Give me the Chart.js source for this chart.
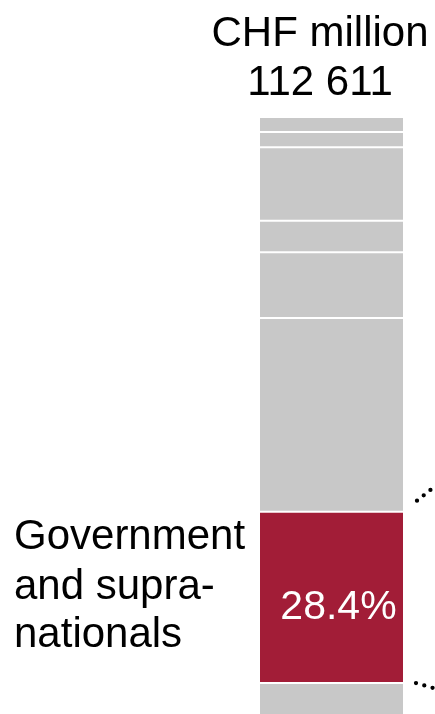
<!DOCTYPE html>
<html><head><meta charset="utf-8">
<script src="https://cdn.jsdelivr.net/npm/chart.js@4.4.1/dist/chart.umd.min.js"></script>
<style>html,body{margin:0;padding:0;background:#fff;overflow:hidden}canvas{display:block}</style>
</head><body><canvas id="c" width="435" height="714"></canvas>
<script>
// ---- data ----
const categories = ['Portfolio'];
const segmentNames = ['Other 1', 'Government and supra-nationals', 'Other 2', 'Other 3', 'Other 4', 'Other 5', 'Other 6', 'Other 7'];
const segmentShares = [6.2, 28.4, 32.1, 10.9, 5.2, 12.2, 2.5, 2.5];
const highlightIndex = 1;
const headerLines = ['CHF million', '112 611'];
const highlightLabelLines = ['Government', 'and supra-', 'nationals'];
const highlightValueLabel = '28.4%';

const GREY = '#c8c8c8', RED = '#a21d37';
const FONT = '42px "Liberation Sans", Arial, sans-serif';

const datasets = segmentShares.map((v, i) => ({
  label: segmentNames[i],
  data: [v],
  backgroundColor: i === highlightIndex ? RED : GREY,
  borderColor: '#ffffff',
  borderWidth: {top: 1, bottom: 1, left: 0, right: 0},
  borderSkipped: false,
  inflateAmount: 0,
  barPercentage: 1,
  categoryPercentage: 1,
  stack: 's'
}));

const annotate = {
  id: 'annotate',
  afterDraw(chart) {
    const ctx = chart.ctx;
    const bar = chart.getDatasetMeta(highlightIndex).data[0];
    const top = chart.chartArea.top;
    const right = bar.x + bar.width / 2;
    const mid = (bar.y + bar.base) / 2;
    ctx.save();
    ctx.font = FONT;
    ctx.fillStyle = '#000';
    ctx.textBaseline = 'alphabetic';
    ctx.textAlign = 'center';
    ctx.fillText(headerLines[0], bar.x - 11.5, top - 71);
    ctx.fillText(headerLines[1], bar.x - 11.5, top - 22);
    ctx.textAlign = 'left';
    const offs = [-48.5, 1.5, 50];
    highlightLabelLines.forEach((t, i) => ctx.fillText(t, 14, mid + offs[i]));
    ctx.textAlign = 'center';
    ctx.fillStyle = '#fff';
    ctx.font = '41px "Liberation Sans", Arial, sans-serif';
    ctx.fillText(highlightValueLabel, bar.x + 7, mid + 21.5);
    // dotted connectors
    ctx.strokeStyle = '#000';
    ctx.lineWidth = 4.3;
    ctx.lineCap = 'round';
    ctx.setLineDash([0, 8.6]);
    ctx.beginPath();
    ctx.moveTo(right + 14, bar.y - 11);
    ctx.lineTo(right + 14 + 60, bar.y - 11 - 48);
    ctx.stroke();
    ctx.beginPath();
    ctx.moveTo(right + 13, bar.base);
    ctx.lineTo(right + 13 + 60, bar.base + 17);
    ctx.stroke();
    ctx.restore();
  }
};

new Chart(document.getElementById('c'), {
  type: 'bar',
  data: {labels: categories, datasets},
  options: {
    responsive: false,
    animation: false,
    devicePixelRatio: 1,
    layout: {padding: {left: 260, right: 32, top: 117, bottom: 0}},
    plugins: {legend: {display: false}, tooltip: {enabled: false}, title: {display: false}},
    scales: {
      x: {stacked: true, display: false},
      y: {stacked: true, display: false, min: 1.08, max: 100}
    }
  },
  plugins: [annotate]
});
</script></body></html>
